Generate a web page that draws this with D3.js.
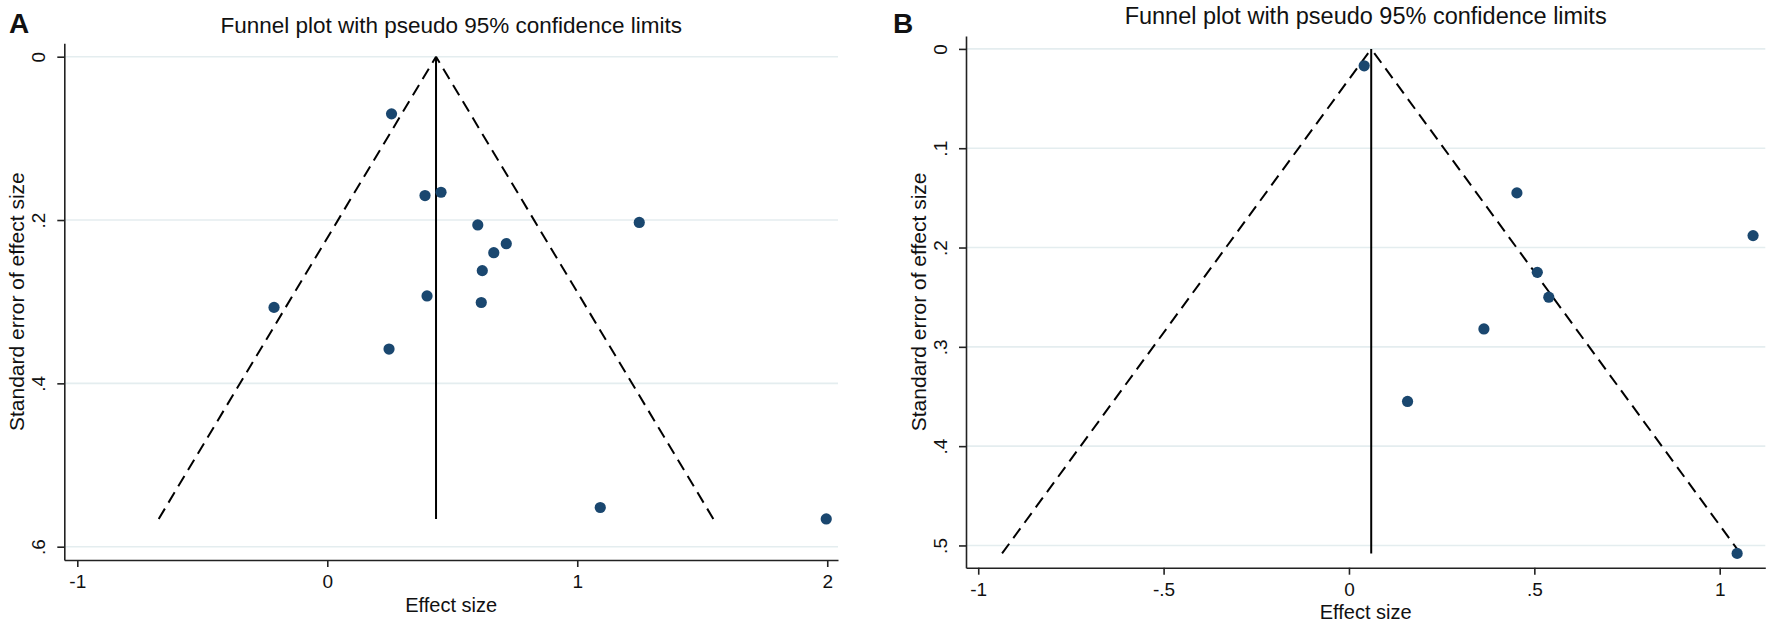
<!DOCTYPE html>
<html>
<head>
<meta charset="utf-8">
<script src="https://cdn.jsdelivr.net/npm/d3@7"></script>
<style>
  body { margin: 0; background: #fff; }
  svg text { font-family: "Liberation Sans", Arial, sans-serif; fill: #111; }
</style>
</head>
<body>
<svg id="chart" width="1772" height="627"></svg>
<script>
// ---- Panel A data (effect size, standard error) ----
var effectA = [0.257, 0.391, 0.455, 0.602, 1.248, 0.716, 0.666, 0.620, 0.399, 0.616, -0.213, 0.247, 1.092, 1.996];
var seA     = [0.070, 0.170, 0.166, 0.206, 0.203, 0.229, 0.240, 0.262, 0.293, 0.301, 0.307, 0.358, 0.552, 0.566];
var pooledA = 0.435;
var xTicksA = [-1, 0, 1, 2];
var yTicksA = [0, 0.2, 0.4, 0.6];

// ---- Panel B data ----
var effectB = [0.041, 0.453, 1.090, 0.508, 0.539, 0.364, 0.158, 1.047];
var seB     = [0.017, 0.145, 0.188, 0.225, 0.250, 0.282, 0.355, 0.508];
var pooledB = 0.06;
var xTicksB = [-1, -0.5, 0, 0.5, 1];
var yTicksB = [0, 0.1, 0.2, 0.3, 0.4, 0.5];

var titleText = "Funnel plot with pseudo 95% confidence limits";
var xTitle = "Effect size";
var yTitle = "Standard error of effect size";

// layout of each panel (pixel boxes and axis padding)
var panels = [
  { letter: "A", effect: effectA, se: seA, pooled: pooledA, xTicks: xTicksA, yTicks: yTicksA,
    xDom: [-1.052, 2.043], yDom: [-0.0164, 0.6163],
    left: 64.3, right: 838, top: 43.3, bottom: 560,
    letterX: 9, titleY: 33, titleSize: 22.5 },
  { letter: "B", effect: effectB, se: seB, pooled: pooledB, xTicks: xTicksB, yTicks: yTicksB,
    xDom: [-1.033, 1.123], yDom: [-0.013, 0.5224],
    left: 966, right: 1765.3, top: 36, bottom: 567.7,
    letterX: 893, titleY: 24, titleSize: 23.5 }
];

var navy = "#1a476f";
var gridCol = "#e4edef";

// Stata style labels: ".2", "-.5", "0"
function stataFmt(d) {
  var s = String(+d.toFixed(2));
  return s.replace(/^(-?)0\./, "$1.");
}

var svg = d3.select("#chart");

function drawPanel(p) {
  var x = d3.scaleLinear().domain(p.xDom).range([p.left, p.right]);
  var y = d3.scaleLinear().domain(p.yDom).range([p.top, p.bottom]);
  var g = svg.append("g");

  // gridlines
  g.selectAll(".grid")
    .data(p.yTicks)
    .enter()
    .append("line")
    .attr("x1", p.left + 1)
    .attr("x2", p.right)
    .attr("y1", function(d) { return y(d); })
    .attr("y2", function(d) { return y(d); })
    .attr("stroke", gridCol)
    .attr("stroke-width", 1.6);

  // pseudo 95% confidence limits
  var seMax = d3.max(p.se);
  var half = 1.96 * seMax;
  var limits = [
    [[p.pooled - half, seMax], [p.pooled, 0]],
    [[p.pooled + half, seMax], [p.pooled, 0]]
  ];
  var line = d3.line()
    .x(function(d) { return x(d[0]); })
    .y(function(d) { return y(d[1]); });

  g.selectAll(".limit")
    .data(limits)
    .enter()
    .append("path")
    .attr("d", line)
    .attr("fill", "none")
    .attr("stroke", "#000")
    .attr("stroke-width", 2)
    .attr("stroke-dasharray", "12,7");

  // pooled estimate
  g.append("path")
    .attr("d", line([[p.pooled, 0], [p.pooled, seMax]]))
    .attr("stroke", "#000")
    .attr("stroke-width", 2);

  // studies
  g.selectAll(".dot")
    .data(p.effect)
    .enter()
    .append("circle")
    .attr("cx", function(d) { return x(d); })
    .attr("cy", function(d, i) { return y(p.se[i]); })
    .attr("r", 5.6)
    .attr("fill", navy);

  // x axis
  var xg = g.append("g")
    .attr("transform", "translate(0," + p.bottom + ")")
    .call(d3.axisBottom(x).tickValues(p.xTicks).tickSize(7).tickSizeOuter(0).tickFormat(stataFmt));
  xg.selectAll("text")
    .attr("y", 28)
    .attr("dy", null)
    .style("font-size", "19px");

  // y axis
  var yg = g.append("g")
    .attr("transform", "translate(" + p.left + ",0)")
    .call(d3.axisLeft(y).tickValues(p.yTicks).tickSize(7).tickSizeOuter(0).tickFormat(stataFmt));
  yg.selectAll("text")
    .attr("x", 0)
    .attr("dy", null)
    .attr("text-anchor", "middle")
    .attr("transform", "translate(-19,0) rotate(-90)")
    .style("font-size", "19px");

  [xg, yg].forEach(function(a) {
    a.select(".domain").attr("stroke", "#222").attr("stroke-width", 1.6);
    a.selectAll(".tick line").attr("stroke", "#222").attr("stroke-width", 1.6);
  });

  // axis titles
  g.append("text")
    .attr("x", (p.left + p.right) / 2)
    .attr("y", p.bottom + 51.5)
    .attr("text-anchor", "middle")
    .style("font-size", "20px")
    .text(xTitle);

  g.append("text")
    .attr("transform", "translate(" + (p.left - 40) + "," + ((p.top + p.bottom) / 2) + ") rotate(-90)")
    .attr("text-anchor", "middle")
    .style("font-size", "21px")
    .text(yTitle);

  // chart title and panel letter
  g.append("text")
    .attr("x", (p.left + p.right) / 2)
    .attr("y", p.titleY)
    .attr("text-anchor", "middle")
    .style("font-size", p.titleSize + "px")
    .text(titleText);

  g.append("text")
    .attr("x", p.letterX)
    .attr("y", 33)
    .style("font-size", "28px")
    .style("font-weight", "bold")
    .text(p.letter);
}

panels.forEach(drawPanel);
</script>
</body>
</html>
